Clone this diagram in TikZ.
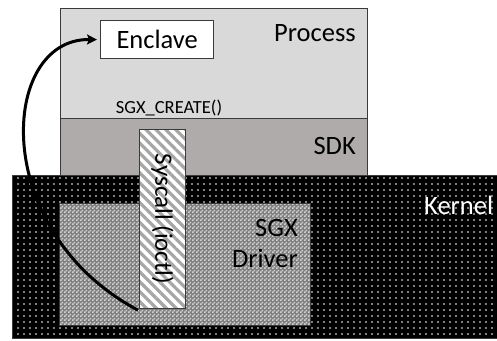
\documentclass[tikz,border=0pt]{standalone}
\usepackage{fontspec}
\setmainfont{Carlito}
\usetikzlibrary{patterns,patterns.meta,arrows.meta}
\definecolor{procgray}{HTML}{D9D9D9}
\definecolor{sdkgray}{HTML}{AFABAB}
\definecolor{edge}{HTML}{3A3A3A}
\pgfdeclarepatternformonly{finechecker}{\pgfqpoint{0pt}{0pt}}{\pgfqpoint{4pt}{4pt}}{\pgfqpoint{4pt}{4pt}}{%
  \pgfpathrectangle{\pgfqpoint{0pt}{0pt}}{\pgfqpoint{2pt}{2pt}}%
  \pgfpathrectangle{\pgfqpoint{2pt}{2pt}}{\pgfqpoint{2pt}{2pt}}%
  \pgfusepath{fill}}
\tikzset{
  layer/.style={draw=edge, line width=1.3pt, anchor=north west, inner sep=0pt},
  lbl/.style={inner sep=0pt, font=\fontsize{26.5}{28}\selectfont},
}
\begin{document}
\begin{tikzpicture}[x=1pt,y=-1pt]
\useasboundingbox (0,0) rectangle (497,340);
% kernel
\node[layer, minimum width=500pt, minimum height=163pt, preaction={fill=black},
      pattern={Dots[radius=0.95pt, distance=6pt]}, pattern color=white] (kernel) at (12,175) {};
% process and SDK
\node[layer, fill=procgray, minimum width=307pt, minimum height=110pt] (process) at (60,8) {};
\node[layer, fill=sdkgray, minimum width=307pt, minimum height=57pt] (sdk) at (60,118) {};
% driver
\node[layer, minimum width=251pt, minimum height=122pt, preaction={fill=gray},
      pattern=finechecker, pattern color=gray!35] (driver) at (59,203) {};
% syscall
\node[layer, minimum width=46pt, minimum height=179pt, preaction={fill=white},
      pattern={Lines[angle=-45, distance=7pt, line width=3.2pt]}, pattern color=gray!70] (syscall) at (138,128) {};
% enclave
\node[layer, fill=white, minimum width=113pt, minimum height=38pt] (enclave) at (100,20) {};
% labels
\node[lbl] (enclavet) at (enclave.center) {Enclave};
\node[lbl, anchor=east] (proct) at (356,33) {Process};
\node[lbl, anchor=east] (sdkt) at (356,146) {SDK};
\node[lbl, anchor=west, text=white] (kernt) at (424,205) {Kernel};
\node[lbl, anchor=east, align=right, font=\fontsize{26.5}{31}\selectfont] (drvt) at (298,243) {SGX\\Driver};
\node[inner sep=0pt, font=\fontsize{18.5}{20}\selectfont] (createt) at (169,108) {SGX\_CREATE()};
\node[lbl, rotate=-90, font=\fontsize{25}{27}\selectfont] (syst) at (syscall.center) {Syscall (ioctl)};
% arrow
\draw[line width=3pt, -{Stealth[length=10pt,width=10pt,inset=2pt]}] (syscall.south west) .. controls (-12,230) and (0,38) .. ([xshift=-3pt]enclave.west);
\end{tikzpicture}
\end{document}
